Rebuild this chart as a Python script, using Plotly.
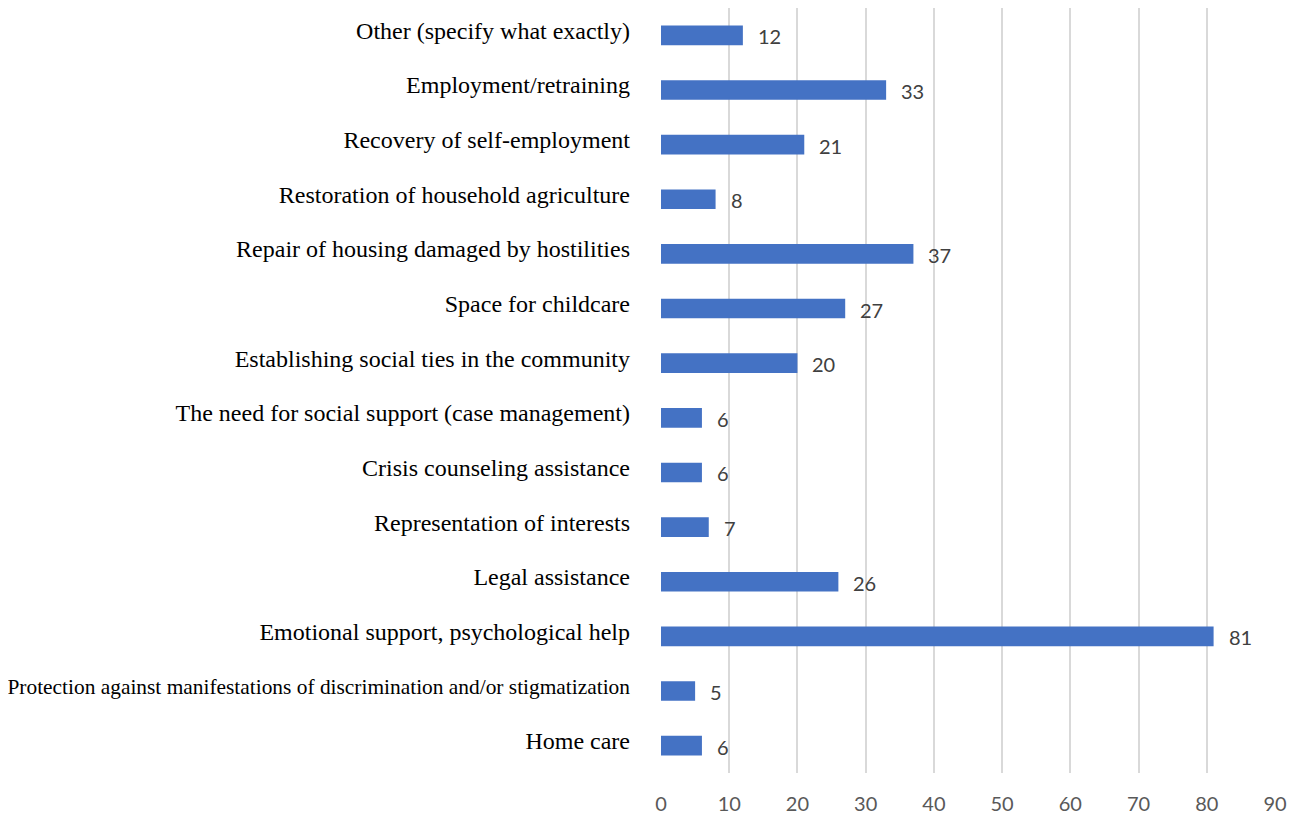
import plotly.graph_objects as go

categories = [
    "Other (specify what exactly)",
    "Employment/retraining",
    "Recovery of self-employment",
    "Restoration of household agriculture",
    "Repair of housing damaged by hostilities",
    "Space for childcare",
    "Establishing social ties in the community",
    "The need for social support (case management)",
    "Crisis counseling assistance",
    "Representation of interests",
    "Legal assistance",
    "Emotional support, psychological help",
    "Protection against manifestations of discrimination and/or stigmatization",
    "Home care",
]
values = [12, 33, 21, 8, 37, 27, 20, 6, 6, 7, 26, 81, 5, 6]
x_ticks = [0, 10, 20, 30, 40, 50, 60, 70, 80, 90]

small_label = "Protection against manifestations of discrimination and/or stigmatization"
tick_text = [
    f'<span style="font-size:21.4px">{c}</span>' if c == small_label else c
    for c in categories
]

fig = go.Figure()
fig.add_trace(go.Bar(
    x=values,
    y=categories,
    orientation="h",
    marker=dict(color="#4472C4", line=dict(width=0)),
    width=0.36,
    hoverinfo="x+y",
))

for c, v in zip(categories, values):
    fig.add_annotation(
        x=v, y=c, text=str(v), showarrow=False,
        xanchor="left", yanchor="middle", xshift=13, yshift=-1,
        font=dict(family="Lato, 'Open Sans', sans-serif", size=20, color="#404040"),
    )

fig.update_layout(
    width=1291, height=808,
    margin=dict(l=653, r=24, t=0, b=43),
    paper_bgcolor="white", plot_bgcolor="white",
    showlegend=False,
    xaxis=dict(
        range=[0, 90], tickvals=x_ticks, showgrid=True,
        gridcolor="#D9D9D9", gridwidth=2, zeroline=False, showline=False,
        tickfont=dict(family="Lato, 'Open Sans', sans-serif", size=20, color="#595959"),
        ticklabelstandoff=17,
    ),
    yaxis=dict(
        type="category", categoryorder="array", categoryarray=categories,
        autorange="reversed", tickvals=categories, ticktext=tick_text,
        showgrid=False, zeroline=False, showline=False,
        tickfont=dict(family="'Liberation Serif', 'Times New Roman', serif", size=24, color="#000000"),
        ticklabelstandoff=30, ticklabelshift=5,
    ),
)

fig.write_html("out.html")
